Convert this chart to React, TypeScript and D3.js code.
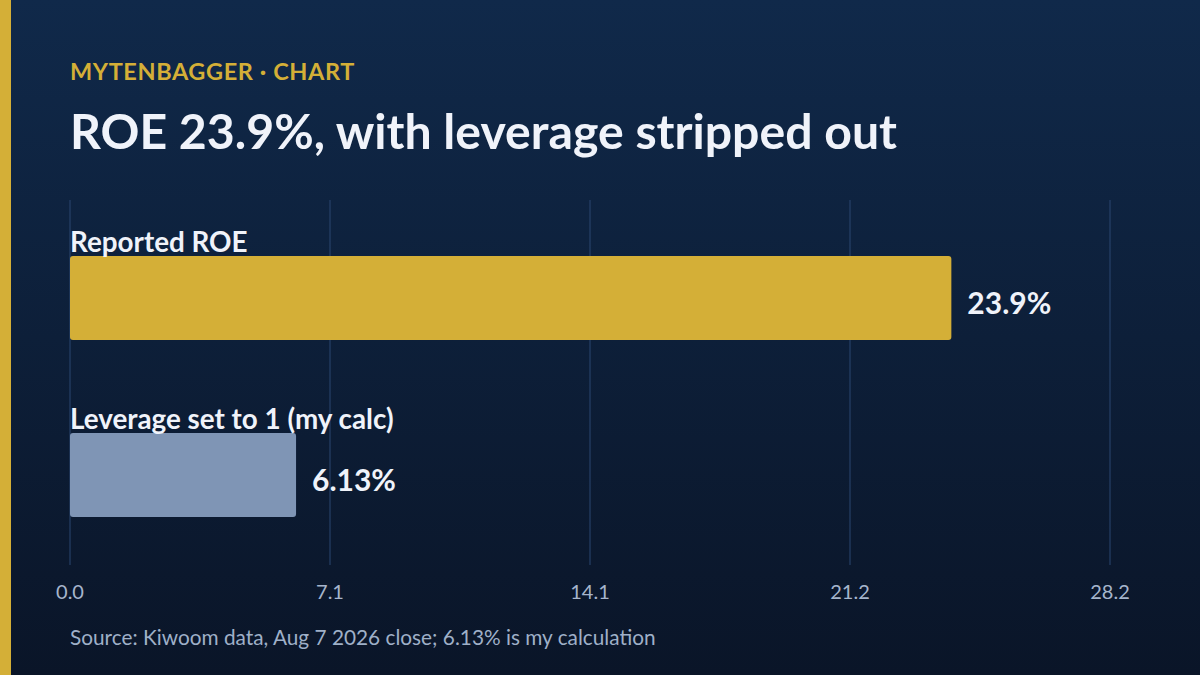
import React, { useEffect, useRef } from 'react';
import * as d3 from 'd3';

// chart data
const categories = ['Reported ROE', 'Leverage set to 1 (my calc)'];
const values = [23.9, 6.13];
const valueLabels = ['23.9%', '6.13%'];
const barColors = ['#d4af37', '#7f95b5'];
const xMax = 28.202;
const tickLabels = ['0.0', '7.1', '14.1', '21.2', '28.2'];

const W = 1200;
const H = 675;
const FONT = 'Lato, "Noto Sans", sans-serif';

export default function App() {
  const svgRef = useRef<SVGSVGElement>(null);

  useEffect(() => {
    if (!svgRef.current) return;
    document.body.style.margin = '0';

    const svg = d3.select(svgRef.current);
    svg.selectAll('*').remove();

    // background gradient
    const defs = svg.append('defs');
    const grad = defs.append('linearGradient')
      .attr('id', 'bg')
      .attr('x1', 0).attr('y1', 0).attr('x2', 0).attr('y2', 1);
    grad.append('stop').attr('offset', '0%').attr('stop-color', '#10294a');
    grad.append('stop').attr('offset', '100%').attr('stop-color', '#0a1528');

    svg.append('rect').attr('width', W).attr('height', H).attr('fill', 'url(#bg)');
    svg.append('rect').attr('width', 11).attr('height', H).attr('fill', '#d4af37');

    // header
    svg.append('text')
      .attr('x', 70).attr('y', 80)
      .style('font-family', FONT)
      .style('font-size', '23.5px')
      .style('font-weight', '700')
      .style('letter-spacing', '0.6px')
      .style('fill', '#d4af37')
      .text('MYTENBAGGER · CHART');

    svg.append('text')
      .attr('x', 70).attr('y', 149)
      .style('font-family', FONT)
      .style('font-size', '48.2px')
      .style('font-weight', '700')
      .style('fill', '#f0f3fa')
      .text('ROE 23.9%, with leverage stripped out');

    // scales
    const x = d3.scaleLinear().domain([0, xMax]).range([70, 1110]);
    const y = d3.scaleBand<string>()
      .domain(categories)
      .range([204, 569])
      .paddingInner(0.525)
      .paddingOuter(0.2935);

    const tickVals = tickLabels.map((_, i) => (xMax * i) / (tickLabels.length - 1));

    // gridlines
    svg.append('g')
      .selectAll('line')
      .data(tickVals)
      .enter()
      .append('line')
      .attr('x1', d => x(d))
      .attr('x2', d => x(d))
      .attr('y1', 200)
      .attr('y2', 565)
      .style('stroke', '#2a4670')
      .style('stroke-width', 1);

    // tick labels
    svg.append('g')
      .selectAll('text')
      .data(tickVals)
      .enter()
      .append('text')
      .attr('x', d => x(d))
      .attr('y', 599)
      .attr('text-anchor', 'middle')
      .style('font-family', FONT)
      .style('font-size', '20px')
      .style('fill', '#a6b5cc')
      .text((_, i) => tickLabels[i]);

    // bars
    const bars = svg.append('g')
      .selectAll('g')
      .data(categories)
      .enter()
      .append('g');

    bars.append('rect')
      .attr('x', x(0))
      .attr('y', d => y(d)!)
      .attr('width', (_, i) => x(values[i]) - x(0))
      .attr('height', y.bandwidth())
      .attr('rx', 3)
      .style('fill', (_, i) => barColors[i]);

    bars.append('text')
      .attr('x', x(0))
      .attr('y', d => y(d)! - 4)
      .style('font-family', FONT)
      .style('font-size', '27.8px')
      .style('font-weight', '700')
      .style('fill', '#f0f3fa')
      .text(d => d);

    bars.append('text')
      .attr('x', (_, i) => x(values[i]) + 16)
      .attr('y', d => y(d)! + y.bandwidth() / 2 + 16)
      .style('font-family', FONT)
      .style('font-size', '30px')
      .style('font-weight', '700')
      .style('fill', '#f0f3fa')
      .text((_, i) => valueLabels[i]);

    // source
    svg.append('text')
      .attr('x', 70).attr('y', 645)
      .style('font-family', FONT)
      .style('font-size', '20.8px')
      .style('fill', '#9fb0c8')
      .text('Source: Kiwoom data, Aug 7 2026 close; 6.13% is my calculation');
  }, []);

  return (
    <svg
      ref={svgRef}
      width={W}
      height={H}
      style={{ display: 'block', position: 'absolute', left: 0, top: 0 }}
    />
  );
}
